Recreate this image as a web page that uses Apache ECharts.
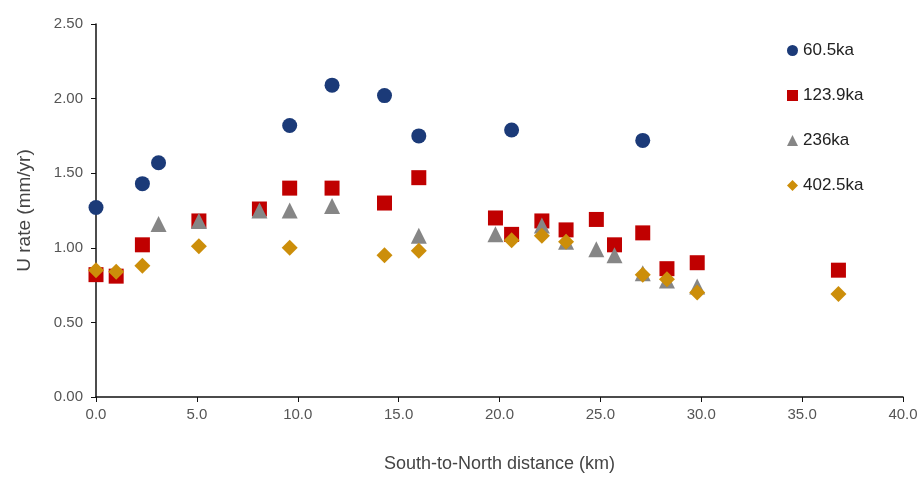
<!DOCTYPE html>
<html><head><meta charset="utf-8">
<script src="https://cdn.jsdelivr.net/npm/echarts@6/dist/echarts.min.js"></script>
<style>html,body{margin:0;padding:0;background:#fff}#c{width:921px;height:478px}</style>
</head><body><div id="c"></div>
<script>
const seriesNames = ['60.5ka', '123.9ka', '236ka', '402.5ka'];
const ka60_5 = [[0,1.27],[2.3,1.43],[3.1,1.57],[9.6,1.82],[11.7,2.09],[14.3,2.02],[16.0,1.75],[20.6,1.79],[27.1,1.72]];
const ka123_9 = [[0,0.82],[1.0,0.81],[2.3,1.02],[5.1,1.18],[8.1,1.26],[9.6,1.40],[11.7,1.40],[14.3,1.30],[16.0,1.47],[19.8,1.20],[20.6,1.09],[22.1,1.18],[23.3,1.12],[24.8,1.19],[25.7,1.02],[27.1,1.10],[28.3,0.86],[29.8,0.90],[36.8,0.85]];
const ka236 = [[3.1,1.16],[5.1,1.18],[8.1,1.25],[9.6,1.25],[11.7,1.28],[16.0,1.08],[19.8,1.09],[22.1,1.15],[23.3,1.04],[24.8,0.99],[25.7,0.95],[27.1,0.83],[28.3,0.78],[29.8,0.74]];
const ka402_5 = [[0,0.85],[1.0,0.84],[2.3,0.88],[5.1,1.01],[9.6,1.00],[14.3,0.95],[16.0,0.98],[20.6,1.05],[22.1,1.08],[23.3,1.04],[27.1,0.82],[28.3,0.79],[29.8,0.70],[36.8,0.69]];
const xTicks = [0,5,10,15,20,25,30,35,40];
const yTicks = [0,0.5,1,1.5,2,2.5];

const chart = echarts.init(document.getElementById('c'), null, {renderer:'canvas'});
const font = 'Liberation Sans, Arial, sans-serif';
chart.setOption({
  animation: false,
  backgroundColor: '#fff',
  grid: {left: 96, right: 18, top: 24, bottom: 80},
  legend: {
    orient: 'vertical', left: 782, top: 37, itemGap: 28,
    itemWidth: 11, itemHeight: 11,
    textStyle: {fontFamily: font, fontSize: 17, color: '#222'},
    data: seriesNames
  },
  xAxis: {
    type: 'value', min: xTicks[0], max: xTicks[xTicks.length-1], interval: 5,
    name: 'South-to-North distance (km)', nameLocation: 'middle', nameGap: 58,
    nameTextStyle: {fontFamily: font, fontSize: 18, color: '#444'},
    axisLine: {show: true, lineStyle: {color: '#111', width: 1.5}},
    axisTick: {show: true, length: 5, lineStyle: {color: '#111'}},
    axisLabel: {fontFamily: font, fontSize: 15, color: '#555', margin: 10, formatter: v => v.toFixed(1)},
    splitLine: {show: false}
  },
  yAxis: {
    type: 'value', min: yTicks[0], max: yTicks[yTicks.length-1], interval: 0.5,
    name: 'U rate (mm/yr)', nameLocation: 'middle', nameGap: 62, nameRotate: 90,
    nameTextStyle: {fontFamily: font, fontSize: 19, color: '#444'},
    axisLine: {show: true, lineStyle: {color: '#111', width: 1.5}},
    axisTick: {show: true, length: 5, lineStyle: {color: '#111'}},
    axisLabel: {fontFamily: font, fontSize: 15, color: '#555', margin: 13, formatter: v => v.toFixed(2)},
    splitLine: {show: false}
  },
  series: [
    {name: seriesNames[0], type: 'scatter', data: ka60_5, symbol: 'circle', symbolSize: 15, itemStyle: {color: '#1B3A78', opacity: 1}, z: 5},
    {name: seriesNames[1], type: 'scatter', data: ka123_9, symbol: 'rect', symbolSize: 15, itemStyle: {color: '#C00000', opacity: 1}, z: 2},
    {name: seriesNames[2], type: 'scatter', data: ka236, symbol: 'triangle', symbolSize: 16, itemStyle: {color: '#868686', opacity: 1}, z: 3},
    {name: seriesNames[3], type: 'scatter', data: ka402_5, symbol: 'diamond', symbolSize: [16,16], itemStyle: {color: '#CC8E0A', opacity: 1}, z: 4}
  ]
});
</script></body></html>
